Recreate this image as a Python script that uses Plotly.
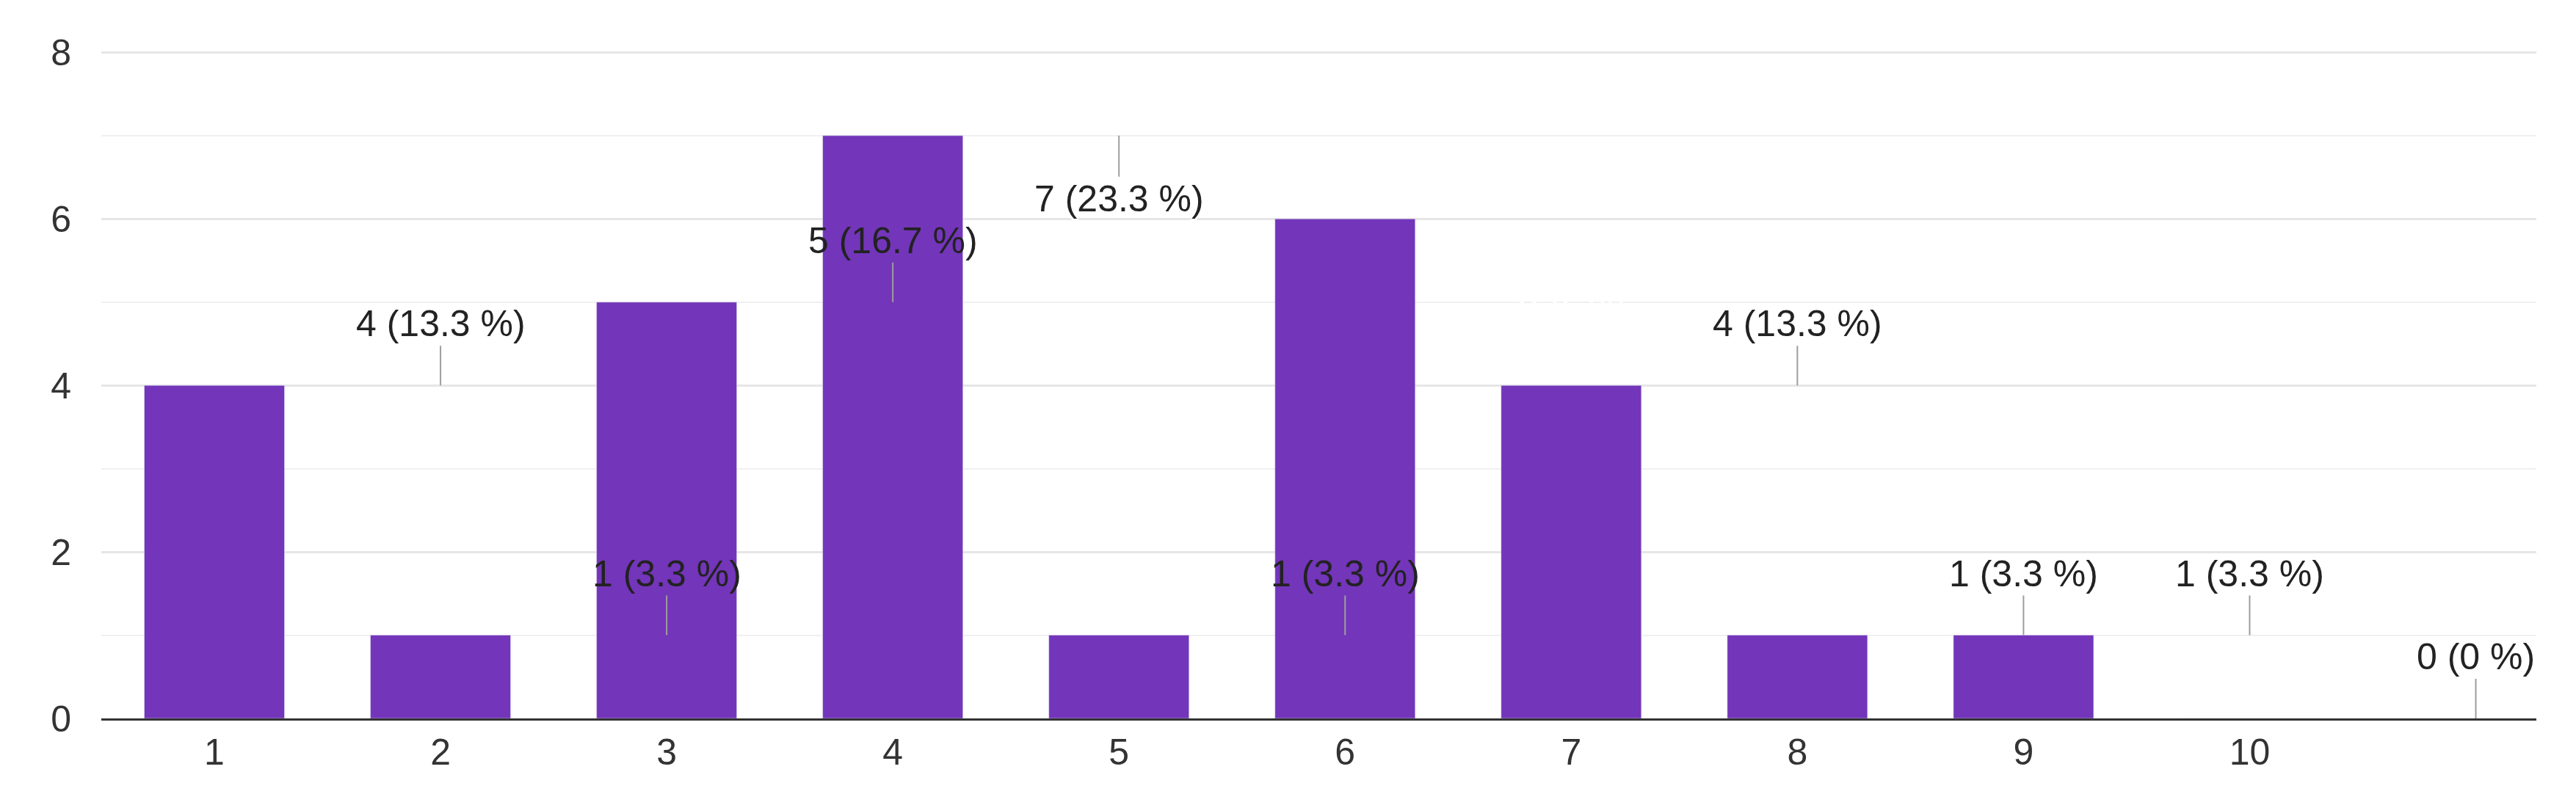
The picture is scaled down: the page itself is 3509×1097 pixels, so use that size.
import plotly.graph_objects as go

categories = ["1", "2", "3", "4", "5", "6", "7", "8", "9", "10"]
counts = [4, 1, 5, 7, 1, 6, 4, 1, 1, 0]
percents = ["13.3 %", "3.3 %", "16.7 %", "23.3 %", "3.3 %", "20 %", "13.3 %", "3.3 %", "3.3 %", "0 %"]

purple = "#7335b9"
fig = go.Figure(go.Bar(x=categories, y=counts, marker_color=purple, width=0.62,
                       hoverinfo="skip"))

FONT = "Liberation Sans, Arial"
for c, v, p in zip(categories, counts, percents):
    label = f"{v} ({p})"
    if c == "6":
        fig.add_annotation(x=c, y=v, text=f"{v}<br>({p})", showarrow=False,
                           yanchor="top", yshift=-8,
                           font=dict(color="white", size=50, family=FONT))
    elif c == "4":
        fig.add_annotation(x=c, y=v, text=label, showarrow=True, arrowhead=0,
                           arrowwidth=2, arrowcolor="#9e9e9e", ax=0, ay=56,
                           yanchor="top", font=dict(color="#222", size=50, family=FONT,
                                                    shadow="2px 2px 0px white, -2px -2px 0px white, 2px -2px 0px white, -2px 2px 0px white"))
    else:
        fig.add_annotation(x=c, y=v, text=label, showarrow=True, arrowhead=0,
                           arrowwidth=2, arrowcolor="#9e9e9e", ax=0, ay=-54,
                           yanchor="bottom", font=dict(color="#222", size=50, family=FONT))

fig.update_layout(
    width=3509, height=1097,
    margin=dict(l=130, r=62, t=60, b=126),
    plot_bgcolor="white", paper_bgcolor="white",
    showlegend=False,
    font=dict(family=FONT, size=50, color="#333"),
)
fig.update_xaxes(type="category", showgrid=False, showline=True, linecolor="#333", linewidth=3,
                 ticks="", tickfont=dict(size=50, color="#333"))
fig.update_yaxes(range=[0, 8.03], tickvals=[0, 2, 4, 6, 8], showgrid=True, gridcolor="#e6e6e6", gridwidth=3,
                 minor=dict(dtick=1, showgrid=True, gridcolor="#f0f0f0", gridwidth=2),
                 zeroline=False, ticks="", ticklabelstandoff=40,
                 tickfont=dict(size=50, color="#333"))

fig.write_html("out.html")
